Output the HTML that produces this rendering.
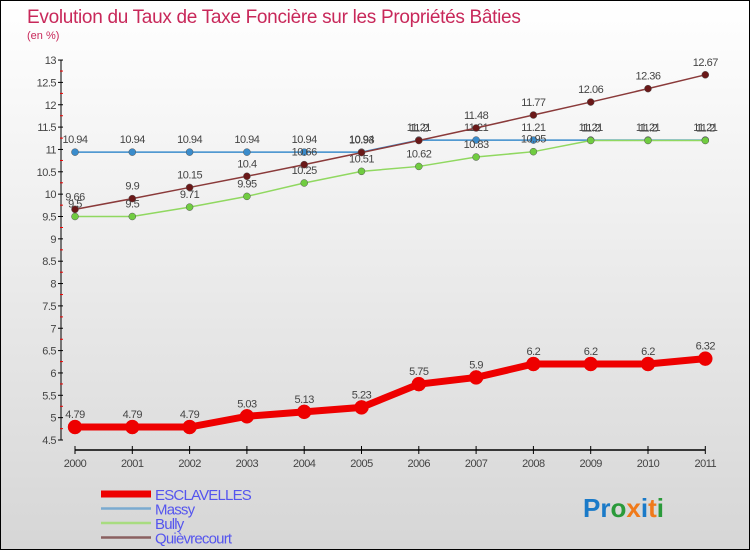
<!DOCTYPE html>
<html><head><meta charset="utf-8"><style>
body{margin:0;width:750px;height:550px;overflow:hidden;font-family:"Liberation Sans",sans-serif}
#wrap{position:relative;width:748px;height:548px;border:1px solid #000;background:linear-gradient(#fff,#f3f3f3 30%,#d6d6d6)}
</style></head><body>
<div id="wrap">
<svg id="chart" width="748" height="548" xmlns="http://www.w3.org/2000/svg">
<text x="26" y="22" font-size="19" fill="#c8285a" letter-spacing="-0.3">Evolution du Taux de Taxe Foncière sur les Propriétés Bâties</text>
<text x="26" y="38" font-size="11" fill="#c8285a">(en %)</text>
<g id="axes"></g><g id="series"></g><g id="legend"></g>
<text x="582" y="516" font-size="26" font-weight="bold"><tspan fill="#1a7ac8">Pr</tspan><tspan fill="#2a9a3a">o</tspan><tspan fill="#f07a1a">x</tspan><tspan fill="#1a7ac8">i</tspan><tspan fill="#f07a1a">t</tspan><tspan fill="#2a9a3a">i</tspan></text>
</svg></div>
<script>
const years=[2000,2001,2002,2003,2004,2005,2006,2007,2008,2009,2010,2011];
const esclavelles=[4.79,4.79,4.79,5.03,5.13,5.23,5.75,5.9,6.2,6.2,6.2,6.32];
const massy=[10.94,10.94,10.94,10.94,10.94,10.94,11.21,11.21,11.21,11.21,11.21,11.21];
const bully=[9.5,9.5,9.71,9.95,10.25,10.51,10.62,10.83,10.95,11.2,11.2,11.2];
const quievrecourt=[9.66,9.9,10.15,10.4,10.66,10.93,11.2,11.48,11.77,12.06,12.36,12.67];
const yTicks=[4.5,5,5.5,6,6.5,7,7.5,8,8.5,9,9.5,10,10.5,11,11.5,12,12.5,13];
const NS="http://www.w3.org/2000/svg";
const X=i=>74+i*57.3, Y=v=>439-(v-4.5)*44.7;
function mk(tag,attrs,parent){const e=document.createElementNS(NS,tag);for(const k in attrs)e.setAttribute(k,attrs[k]);parent.appendChild(e);return e;}
const axes=document.getElementById('axes');
let a=mk('line',{x1:60,y1:Y(13),x2:60,y2:Y(4.5),stroke:'#000'},axes);


a=mk('line',{x1:X(0),y1:449,x2:X(11),y2:449,stroke:'#000','stroke-width':1.5},axes);


yTicks.forEach((v,k)=>{
 mk('line',{x1:57,y1:Y(v),x2:62,y2:Y(v),stroke:'#000'},axes);
 if(k>0) mk('line',{x1:59,y1:Y(v)+11,x2:62,y2:Y(v)+11,stroke:'#e00'},axes);
 const t=mk('text',{x:55,y:Y(v)+4,'text-anchor':'end','font-size':11,fill:'#444','letter-spacing':'-0.5'},axes);
 t.textContent=String(v);
 
 
});
years.forEach((yr,i)=>{
 mk('line',{x1:X(i),y1:445,x2:X(i),y2:453,stroke:'#000'},axes);
 const t=mk('text',{x:X(i),y:466,'text-anchor':'middle','font-size':11,fill:'#444','letter-spacing':'-0.5'},axes);
 t.textContent=String(yr);
 
 
});
const ser=document.getElementById('series');
function draw(vals,name,color,lw,r,fill){
 const g=mk('g',{},ser);
 
 
 const p=mk('polyline',{points:vals.map((v,i)=>X(i)+','+Y(v)).join(' '),fill:'none',stroke:color,'stroke-width':lw},g);
 
 
 vals.forEach((v,i)=>{
  const c=mk('circle',{cx:X(i),cy:Y(v),r:r,fill:fill,stroke:color==='#e00'?'#e00':'#555','stroke-width':0.5},g);
  
  
  const t=mk('text',{x:X(i),y:Y(v)-9,'text-anchor':'middle','font-size':11,fill:'#444','letter-spacing':'-0.5'},g);
  t.textContent=String(v);
  
  
 });
}
draw(massy,'massy','#3a8ccc',1.5,3.5,'#3a8ccc');
draw(bully,'bully','#90d860',1.5,3.5,'#70cc40');
draw(quievrecourt,'quievrecourt','#8a3a3a',1.5,3.5,'#6a1818');
draw(esclavelles,'esclavelles','#e00',7,7,'#e00');
const lg=document.getElementById('legend');
[['ESCLAVELLES','#e00',7],['Massy','#7aaad0',2.5],['Bully','#a8dc80',2.5],['Quièvrecourt','#8a6060',2.5]].forEach((d,i)=>{
 const y=493+i*14.5;
 const l=mk('line',{x1:100,y1:y,x2:150,y2:y,stroke:d[1],'stroke-width':d[2]},lg);
 
 
 const t=mk('text',{x:154,y:y+6,'font-size':15,fill:'#5555ee','letter-spacing':'-0.8'},lg);
 t.textContent=d[0];
 
 
});
</script>
</body></html>
